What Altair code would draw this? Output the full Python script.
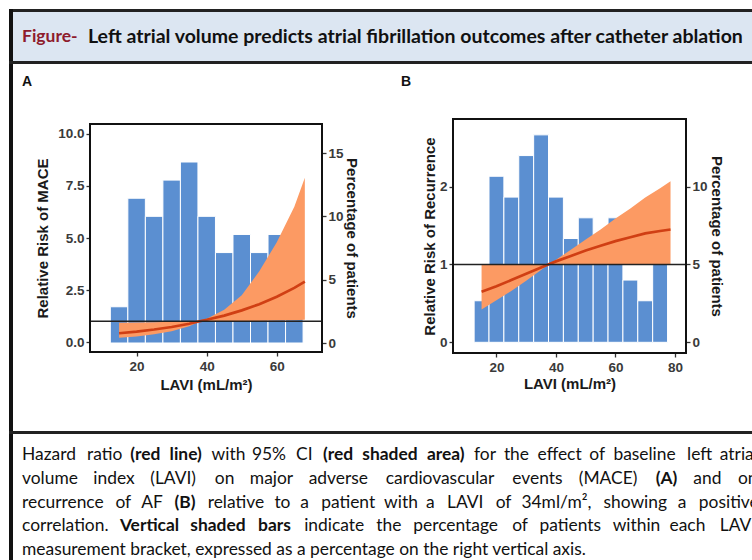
import altair as alt
import pandas as pd

W, H = 752, 560

# ---------------- data ----------------
# Panel A: MACE.  Bins of LAVI (mL/m2, centres) and share of patients (%)
a_bin_centre = [15, 20, 25, 30, 35, 40, 45, 50, 55, 60, 65]
a_bin_pct = [2.86, 11.43, 10.0, 12.86, 14.29, 10.0, 7.14, 8.57, 7.14, 8.57, 7.14]
# hazard ratio curve with 95% CI
a_lavi = [15, 20, 25, 30, 35, 38, 40, 45, 50, 55, 60, 65, 68]
a_hr = [0.42, 0.50, 0.60, 0.72, 0.88, 1.00, 1.07, 1.27, 1.52, 1.82, 2.18, 2.60, 2.90]
a_lo = [0.20, 0.27, 0.37, 0.52, 0.76, 0.99, 1.00, 1.00, 1.00, 1.01, 1.03, 1.05, 1.07]
a_hi = [0.93, 0.94, 0.95, 0.97, 0.99, 1.01, 1.12, 1.55, 2.25, 3.40, 4.80, 6.50, 7.90]

# Panel B: AF recurrence
b_bin_centre = [15, 20, 25, 30, 35, 40, 45, 50, 55, 60, 65, 70, 75]
b_bin_pct = [2.67, 10.67, 9.33, 12.0, 13.33, 9.33, 6.67, 8.0, 6.67, 8.0, 4.0, 2.67, 5.33]
b_lavi = [15, 20, 25, 30, 35, 37.4, 40, 45, 50, 55, 60, 65, 70, 75, 78.5]
b_hr = [0.65, 0.72, 0.80, 0.88, 0.96, 1.00, 1.04, 1.11, 1.18, 1.24, 1.30, 1.35, 1.40, 1.43, 1.45]
b_lo = [0.42, 0.54, 0.66, 0.79, 0.93, 1.00, 1.00, 1.00, 1.00, 1.00, 1.00, 1.00, 1.00, 1.00, 1.00]
b_hi = [1.00, 1.00, 1.00, 1.00, 1.00, 1.00, 1.06, 1.19, 1.32, 1.45, 1.59, 1.72, 1.86, 1.98, 2.07]

BIN_W = 5

# caption text; words wrapped in ** are set in bold
caption_lines = [
    "Hazard ratio **(red line)** with 95% CI **(red shaded area)** for the effect of baseline left atrial",
    "volume index (LAVI) on major adverse cardiovascular events (MACE) **(A)** and on",
    "recurrence of AF **(B)** relative to a patient with a LAVI of 34ml/m², showing a positive",
    "correlation. **Vertical shaded bars** indicate the percentage of patients within each LAVI",
    "measurement bracket, expressed as a percentage on the right vertical axis.",
]

# ---------------- styling ----------------
BAR = "#5B8FD1"
BAND = "#FC9A63"
LINE = "#D03F14"
AXFONT = "Arial"
TXTFONT = "Lato"
CAP_SIZE = 17.4


def bins_df(centres, pct):
    return pd.DataFrame({
        "lo": [c - BIN_W / 2 for c in centres],
        "hi": [c + BIN_W / 2 for c in centres],
        "pct": pct,
    })


def curve_df(lavi, hr, lo, hi):
    return pd.DataFrame({"lavi": lavi, "hr": hr, "lo": lo, "hi": hi})


def panel(bins, curve, xdom, xpix, ypix, rrdom, pctdom, rr_ticks, rr_fmt,
          pct_ticks, x_ticks, ytitle, left_pad, right_pad, x_title_pad):
    xs = alt.Scale(domain=xdom, range=list(xpix), nice=False, zero=False)
    rr = alt.Scale(domain=rrdom, range=[ypix[1], ypix[0]], nice=False, zero=False)
    pc = alt.Scale(domain=pctdom, range=[ypix[1], ypix[0]], nice=False, zero=False)

    bars = alt.Chart(bins).mark_rect(color=BAR, stroke="white", strokeWidth=1).encode(
        x=alt.X("lo:Q", scale=xs, axis=alt.Axis(
            orient="bottom", values=x_ticks, offset=ypix[1] - H,
            title="LAVI (mL/m²)", titlePadding=x_title_pad, labelPadding=3)),
        x2="hi:Q",
        y=alt.Y("pct:Q", scale=pc, axis=alt.Axis(
            orient="right", values=pct_ticks, offset=xpix[1] - W,
            title="Percentage of patients", titleAngle=90, titleBaseline="bottom",
            titlePadding=right_pad, labelPadding=2)),
        y2=alt.datum(0),
    )
    band = alt.Chart(curve).mark_area(color=BAND, opacity=1).encode(
        x=alt.X("lavi:Q", scale=xs, axis=None),
        y=alt.Y("lo:Q", scale=rr, axis=alt.Axis(
            orient="left", values=rr_ticks, format=rr_fmt, offset=-xpix[0],
            title=ytitle, titlePadding=left_pad, labelPadding=2)),
        y2="hi:Q",
    )
    line = alt.Chart(curve).mark_line(color=LINE, strokeWidth=2.7).encode(
        x=alt.X("lavi:Q", scale=xs, axis=None),
        y=alt.Y("hr:Q", scale=rr, axis=None),
    )
    ref = alt.Chart(pd.DataFrame({"r": [1]})).mark_rule(color="#222222", strokeWidth=1.6).encode(
        y=alt.Y("r:Q", scale=rr, axis=None),
        x=alt.value(xpix[0]), x2=alt.value(xpix[1]),
    )
    frame = alt.Chart(pd.DataFrame({"r": [0]})).mark_rect(
        fillOpacity=0, stroke="#111111", strokeWidth=2).encode(
        x=alt.value(xpix[0]), x2=alt.value(xpix[1]),
        y=alt.value(ypix[0]), y2=alt.value(ypix[1]),
    )
    return [bars, band, line, ref, frame]


one = pd.DataFrame({"r": [0]})


def text(s, x, y, size=CAP_SIZE, weight="normal", color="#111111", font=TXTFONT,
         align="left"):
    return alt.Chart(one).mark_text(
        text=s, font=font, fontSize=size, fontWeight=weight, color=color,
        align=align, baseline="middle").encode(x=alt.value(x), y=alt.value(y))


def box(x1, x2, y1, y2, fill):
    return alt.Chart(one).mark_rect(color=fill).encode(
        x=alt.value(x1), x2=alt.value(x2), y=alt.value(y1), y2=alt.value(y2))


# approximate advance widths (em) used to lay out the justified caption
_REG = dict(zip("abcdefghijklmnopqrstuvwxyz",
                [.556, .556, .5, .556, .556, .278, .556, .556, .222, .222, .5, .222, .833,
                 .556, .556, .556, .556, .333, .5, .278, .556, .5, .722, .5, .5, .5]))
_BOLD = dict(zip("abcdefghijklmnopqrstuvwxyz",
                 [.556, .611, .556, .611, .556, .333, .611, .611, .278, .278, .556, .278, .889,
                  .611, .611, .611, .611, .389, .556, .333, .611, .556, .778, .556, .556, .5]))
_UP = dict(zip("ABCDEFGHIJKLMNOPQRSTUVWXYZ",
               [.667, .667, .722, .722, .667, .611, .778, .722, .278, .5, .667, .556, .833,
                .722, .778, .667, .778, .722, .667, .611, .722, .667, .944, .667, .667, .611]))
_MISC = {"(": .333, ")": .333, "%": .889, ",": .278, ".": .278, "/": .278, "-": .333,
         "²": .333, " ": .278}
EM_REG = 17.16   # px per em for the caption regular face
EM_BOLD = 15.64  # px per em for the caption bold face


def word_w(w, bold):
    tot = 0.0
    for ch in w:
        if ch.isdigit():
            tot += .556
        elif ch in _UP:
            tot += _UP[ch] + (.05 if bold else 0)
        elif ch in _MISC:
            tot += _MISC[ch]
        else:
            tot += (_BOLD if bold else _REG).get(ch, .55)
    return tot * (EM_BOLD if bold else EM_REG)


def caption_marks(lines, x0, x1, y0, dy):
    """Justified lines word by word; the closing line is set as one run."""
    out = []
    for k, ln in enumerate(lines):
        y = y0 + k * dy
        if k == len(lines) - 1:
            out.append(text(ln.replace("**", ""), x0, y))
            continue
        words, bold = [], False
        for piece in ln.split("**"):
            for w in piece.split():
                words.append((w, bold))
            bold = not bold
        widths = [word_w(w, b) for w, b in words]
        gap = (x1 - x0 - sum(widths)) / (len(words) - 1)
        x = x0
        for (w, b), ww in zip(words, widths):
            out.append(text(w, x, y, weight="bold" if b else "normal"))
            x += ww + gap
    return out


layers = []
# figure frame and title band
layers += [
    box(10, W, 10, 62, "#DCE6F2"),
    box(9, W, 9, 12, "#222222"),
    box(9, 13, 9, H, "#111111"),
    box(9, W, 61, 64, "#222222"),
    box(9, W, 431, 434, "#222222"),
]
layers += [
    text("Figure-", 22, 37, size=17.5, weight="bold", color="#8E1B2C"),
    text("Left atrial volume predicts atrial fibrillation outcomes after catheter ablation",
         88, 37, size=19.5, weight="bold"),
    text("A", 22, 82, size=14, weight="bold", font=AXFONT),
    text("B", 401, 82, size=14, weight="bold", font=AXFONT),
]

layers += panel(bins_df(a_bin_centre, a_bin_pct), curve_df(a_lavi, a_hr, a_lo, a_hi),
                xdom=[6.7, 72.9], xpix=(90, 322), ypix=(124, 352),
                rrdom=[-0.48, 10.48], pctdom=[-0.71, 17.29],
                rr_ticks=[0, 2.5, 5, 7.5, 10], rr_fmt=".1f",
                pct_ticks=[0, 5, 10, 15], x_ticks=[20, 40, 60],
                ytitle="Relative Risk of MACE", left_pad=7, right_pad=0,
                x_title_pad=5)
layers += panel(bins_df(b_bin_centre, b_bin_pct), curve_df(b_lavi, b_hr, b_lo, b_hi),
                xdom=[5.4, 83.7], xpix=(453, 686), ypix=(119, 353),
                rrdom=[-0.1375, 2.87], pctdom=[-0.6875, 14.35],
                rr_ticks=[0, 1, 2], rr_fmt="d",
                pct_ticks=[0, 5, 10], x_ticks=[20, 40, 60, 80],
                ytitle="Relative Risk of Recurrence", left_pad=2, right_pad=1,
                x_title_pad=3)

layers += caption_marks(caption_lines, 22, 757, 455, 23.8)

chart = alt.layer(*layers).resolve_scale(x="independent", y="independent").properties(
    width=W, height=H, padding=0, autosize=alt.AutoSizeParams(type="none"),
    background="white",
).configure_view(stroke=None).configure_axis(
    grid=False, domain=False,
    labelFont=AXFONT, labelFontWeight="bold", labelFontSize=13.5, labelColor="#3A3A3A",
    titleFont=AXFONT, titleFontWeight="bold", titleFontSize=15, titleColor="#1A1A1A",
    tickColor="#333333", tickWidth=1.3, tickSize=4,
)

chart.save("out.html", embed_options={"renderer": "svg", "actions": False})
